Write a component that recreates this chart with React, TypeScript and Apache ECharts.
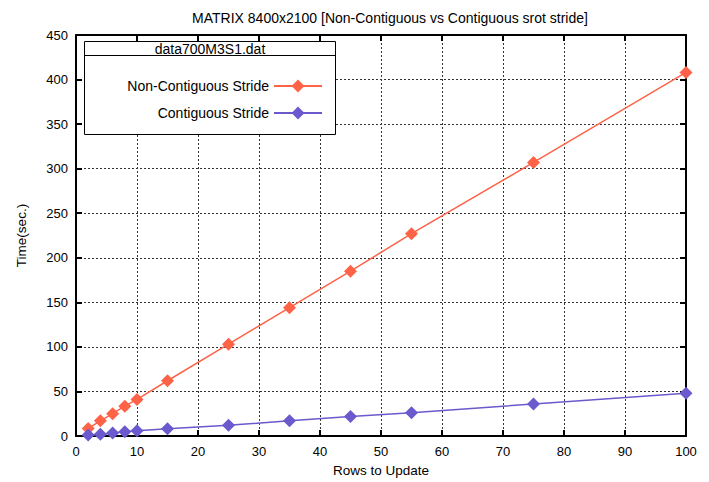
import React, { useEffect, useRef } from "react";
import * as echarts from "echarts";

const rows = [2, 4, 6, 8, 10, 15, 25, 35, 45, 55, 75, 100];
const nonContiguous = [8.5, 17, 25, 33.5, 41, 62, 103, 144, 185, 227, 307, 408];
const contiguous = [1, 2, 3.3, 4.8, 6, 8, 12, 17, 22, 26, 36, 48];
const seriesNames = ["Non-Contiguous Stride", "Contiguous Stride"];
const legendTitle = "data700M3S1.dat";
const chartTitle = "MATRIX 8400x2100 [Non-Contiguous vs Contiguous srot stride]";

const FONT = "Liberation Sans, Arial, Helvetica, sans-serif";

export default function App() {
  const ref = useRef<HTMLDivElement>(null);
  useEffect(() => {
    if (!ref.current) return;
    const chart = echarts.init(ref.current, undefined, { renderer: "svg" });
    const pair = (ys: number[]) => rows.map((x, i) => [x, ys[i]]);
    const tickStyle = { show: true, inside: true, length: 6, lineStyle: { color: "#000", width: 2 } };
    const axisLine = { show: true, onZero: false, lineStyle: { color: "#000", width: 2 } };
    const splitLine = { show: true, lineStyle: { color: "#333", type: [2, 2], width: 1 } };
    const labelStyle = { color: "#000", fontSize: 13, fontFamily: FONT };
    const legendText = { color: "#000", fontSize: 14, fontFamily: FONT };
    chart.setOption({
      animation: false,
      backgroundColor: "#fff",
      textStyle: { fontFamily: FONT },
      title: {
        text: chartTitle,
        left: 385,
        textAlign: "center",
        top: 6,
        textStyle: { fontSize: 14, fontWeight: "normal", color: "#000", fontFamily: FONT },
      },
      grid: { left: 76, right: 23, top: 35, bottom: 41 },
      xAxis: [
        {
          type: "value",
          min: 0,
          max: 100,
          interval: 10,
          name: "Rows to Update",
          nameLocation: "middle",
          nameGap: 27,
          nameTextStyle: { color: "#000", fontSize: 13.5, fontFamily: FONT },
          axisLine,
          axisTick: tickStyle,
          axisLabel: { ...labelStyle, margin: 9 },
          splitLine,
        },
        {
          type: "value",
          position: "top",
          min: 0,
          max: 100,
          interval: 10,
          axisLine,
          axisTick: tickStyle,
          axisLabel: { show: false },
          splitLine: { show: false },
        },
      ],
      yAxis: [
        {
          type: "value",
          min: 0,
          max: 450,
          interval: 50,
          name: "Time(sec.)",
          nameLocation: "middle",
          nameGap: 48,
          nameTextStyle: { color: "#000", fontSize: 13.5, fontFamily: FONT },
          axisLine,
          axisTick: tickStyle,
          axisLabel: { ...labelStyle, margin: 8 },
          splitLine,
        },
        {
          type: "value",
          position: "right",
          min: 0,
          max: 450,
          interval: 50,
          axisLine,
          axisTick: tickStyle,
          axisLabel: { show: false },
          splitLine: { show: false },
        },
      ],
      legend: [
        {
          data: [seriesNames[0]],
          right: 709 - 328,
          top: 74,
          align: "right",
          itemWidth: 48,
          itemHeight: 16,
          textStyle: legendText,
        },
        {
          data: [seriesNames[1]],
          right: 709 - 328,
          top: 101,
          align: "right",
          itemWidth: 48,
          itemHeight: 16,
          textStyle: legendText,
        },
      ],
      graphic: [
        {
          type: "rect",
          shape: { x: 84.5, y: 41.5, width: 251, height: 93 },
          style: { fill: "#fff", stroke: "#000", lineWidth: 1 },
          z: 1,
          silent: true,
        },
        {
          type: "line",
          shape: { x1: 84.5, y1: 55.5, x2: 335.5, y2: 55.5 },
          style: { stroke: "#000", lineWidth: 1 },
          z: 2,
          silent: true,
        },
        {
          type: "text",
          x: 210,
          y: 48.5,
          style: {
            text: legendTitle,
            fill: "#000",
            fontSize: 14,
            fontFamily: FONT,
            textAlign: "center",
            textVerticalAlign: "middle",
          },
          z: 2,
          silent: true,
        },
      ],
      series: [
        {
          name: seriesNames[0],
          type: "line",
          data: pair(nonContiguous),
          symbol: "diamond",
          symbolSize: 13,
          color: "#ff6347",
          lineStyle: { width: 1.5, color: "#ff6347" },
          itemStyle: { color: "#ff6347" },
          z: 5,
        },
        {
          name: seriesNames[1],
          type: "line",
          data: pair(contiguous),
          symbol: "diamond",
          symbolSize: 13,
          color: "#6a5acd",
          lineStyle: { width: 1.5, color: "#6a5acd" },
          itemStyle: { color: "#6a5acd" },
          z: 5,
        },
      ],
    });
    return () => chart.dispose();
  }, []);
  return <div ref={ref} style={{ width: 709, height: 482, position: "absolute", left: 0, top: 0 }} />;
}
